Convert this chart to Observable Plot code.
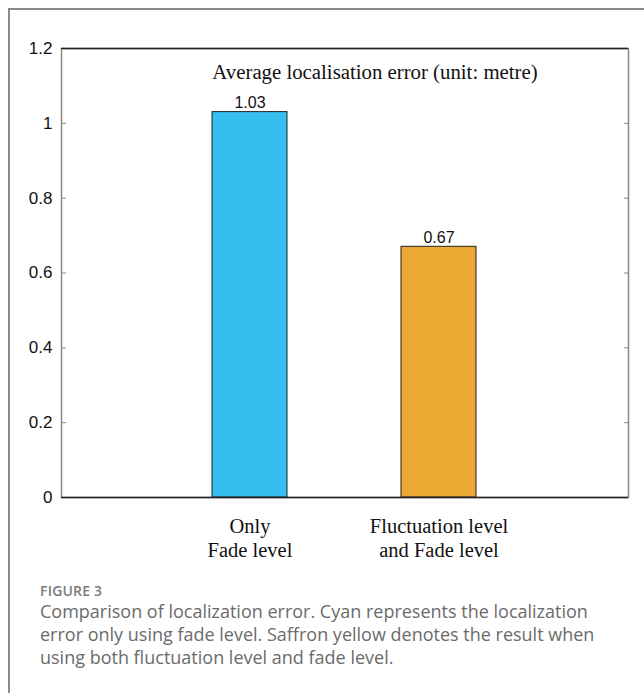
<!DOCTYPE html>
<html>
<head>
<meta charset="utf-8">
<script src="https://cdn.jsdelivr.net/npm/d3@7"></script>
<script src="https://cdn.jsdelivr.net/npm/@observablehq/plot@0.6"></script>
<style>
  html, body { margin: 0; padding: 0; background: #fff; }
  #card { position: absolute; left: 8px; top: 8px; width: 636px; height: 685px;
          border-top: 2px solid #8a8a8a; border-left: 2px solid #8a8a8a; box-sizing: border-box; }
  #chart { position: absolute; left: 0; top: 0; }
  #fig { position: absolute; left: 40px; top: 581px; font-family: "Open Sans", Lato, sans-serif;
         font-size: 14px; font-weight: 600; color: #7a7a7a; letter-spacing: 0.2px; }
  #cap { position: absolute; left: 40px; top: 600px; width: 585px; font-family: "Open Sans", Lato, sans-serif;
         font-size: 18px; line-height: 23px; color: #6b6b6b; }
</style>
</head>
<body>
<div id="card"></div>
<div id="chart"></div>
<div id="fig">FIGURE 3</div>
<div id="cap">Comparison of localization error. Cyan represents the localization error only using fade level. Saffron yellow denotes the result when using both fluctuation level and fade level.</div>
<script>
const categories = ["Only\nFade level", "Fluctuation level\nand Fade level"];
const values = [1.03, 0.67];
const colors = ["#35bef0", "#eba832"];
const valueLabels = ["1.03", "0.67"];
const yTicks = [0, 0.2, 0.4, 0.6, 0.8, 1, 1.2];
const yTickLabels = ["0", "0.2", "0.4", "0.6", "0.8", "1", "1.2"];
const title = "Average localisation error (unit: metre)";

const data = categories.map((c, i) => ({cat: c, value: values[i], color: colors[i], label: valueLabels[i]}));
const yLabelData = yTicks.map((t, i) => ({y: t, label: yTickLabels[i]}));

const sans = "'Liberation Sans', Arial, sans-serif";
const serif = "'Liberation Serif', 'Times New Roman', serif";

const plot = Plot.plot({
  width: 644,
  height: 570,
  marginLeft: 61,
  marginRight: 16,
  marginTop: 48,
  marginBottom: 73,
  x: {type: "band", domain: categories, paddingInner: 0.603, paddingOuter: 0.8},
  y: {domain: [0, 1.2]},
  style: {background: "transparent", fontSize: "15px", fontFamily: sans, color: "#111"},
  marks: [
    Plot.frame({stroke: "#888", strokeWidth: 1.5}),
    Plot.barY(data, {x: "cat", y: "value", fill: "color", stroke: "#222", strokeWidth: 1}),
    Plot.text(data, {x: "cat", y: "value", text: "label", dy: -9, fontSize: 16,
      fontFamily: sans, fill: "#111"}),
    Plot.text([title], {frameAnchor: "top", lineAnchor: "middle", dx: 30, dy: 24, fontSize: 20.8,
      fontFamily: serif, fill: "#111"}),
    Plot.text(yLabelData, {y: "y", text: "label", frameAnchor: "left", textAnchor: "end", dx: -9,
      fontSize: 17, fontFamily: sans, fill: "#111"}),
    Plot.axisY({anchor: "left", ticks: yTicks, tickSize: -5, text: null, stroke: "#888", label: null}),
    Plot.axisY({anchor: "right", ticks: yTicks, tickSize: -5, text: null, stroke: "#888", label: null}),
    Plot.axisX({anchor: "bottom", tickSize: 0, tickPadding: 18, fontSize: 20.5, lineHeight: 1.17,
      fontFamily: serif, color: "#111", label: null}),
    Plot.ruleY([0, 1.2], {stroke: "#222", strokeWidth: 1.5})
  ]
});
document.getElementById("chart").appendChild(plot);
</script>
</body>
</html>
